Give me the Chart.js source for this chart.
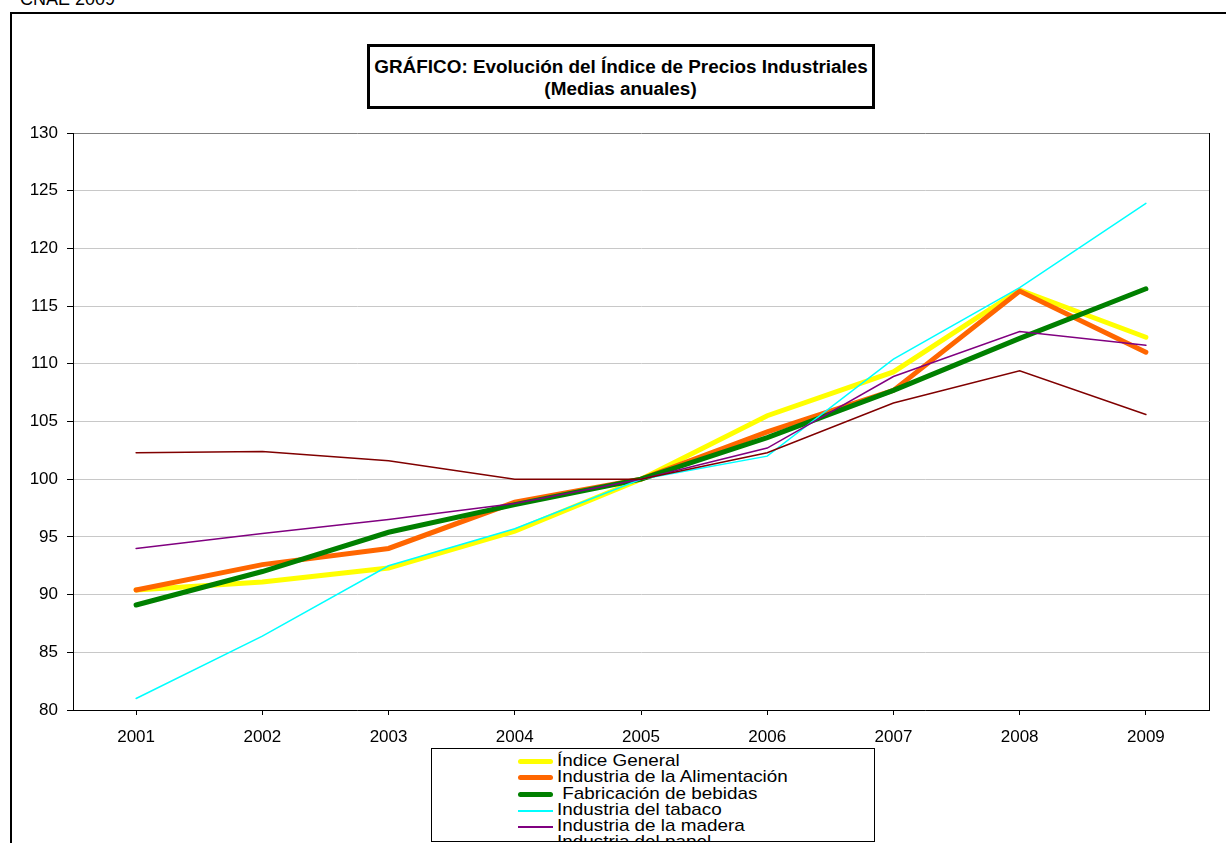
<!DOCTYPE html>
<html>
<head>
<meta charset="utf-8">
<script src="https://cdn.jsdelivr.net/npm/chart.js@4"></script>
<style>
  body { margin: 0; background: #fff; font-family: "Liberation Sans", Arial, sans-serif; }
  #wrap { position: relative; width: 1226px; height: 843px; overflow: hidden; }
  #chartCanvas { position: absolute; left: 0; top: 0; }
  .note { position: absolute; left: 20px; top: -10px; font-size: 18px; line-height: 18px; color: #000; }
  .outer { position: absolute; left: 10px; top: 12px; width: 1400px; height: 1000px; border: 2px solid #000; box-sizing: border-box; }
  .title-box { position: absolute; left: 367px; top: 44px; width: 508px; height: 65px; border: 3px solid #000; box-sizing: border-box;
    background: #fff; text-align: center; font-weight: bold; font-size: 18px; line-height: 22px; padding-top: 9px; }
  .title-box span { display: inline-block; transform: scaleX(1.05); transform-origin: center; }
  .legend-box { position: absolute; left: 431px; top: 748px; width: 444px; height: 94px; border: 1px solid #000; box-sizing: border-box;
    background: #fff; overflow: hidden; padding-top: 4px; }
  .legend-row { height: 16.3px; line-height: 16.3px; font-size: 17px; white-space: pre; position: relative; padding-left: 125px; }
  .legend-row .sample { position: absolute; left: 86px; width: 35px; }
  .legend-row .txt { display: inline-block; transform: scaleX(1.11); transform-origin: left center; }
</style>
</head>
<body>
<div id="wrap">
  <div class="outer"></div>
  <div class="note">CNAE 2009</div>
  <canvas id="chartCanvas" width="1226" height="843"></canvas>
  <div class="title-box"><span>GRÁFICO: Evolución del Índice de Precios Industriales</span><br><span>(Medias anuales)</span></div>
  <div class="legend-box" id="legend"></div>
</div>
<script>
// categories and series (annual averages, 2005 = 100)
var years = ["2001", "2002", "2003", "2004", "2005", "2006", "2007", "2008", "2009"];

var indiceGeneral = [90.4, 91.1, 92.3, 95.5, 100, 105.5, 109.3, 116.4, 112.3];
var alimentacion  = [90.4, 92.6, 94.0, 98.0, 100, 104.1, 107.7, 116.3, 111.0];
var bebidas       = [89.1, 92.0, 95.4, 97.8, 100, 103.6, 107.7, 112.2, 116.5];
var tabaco        = [81.0, 86.4, 92.5, 95.7, 100, 102.0, 110.4, 116.6, 123.9];
var madera        = [94.0, 95.3, 96.5, 97.9, 100, 102.7, 108.9, 112.8, 111.6];
var papel         = [102.3, 102.4, 101.6, 100.0, 100, 102.3, 106.6, 109.4, 105.6];

var seriesNames = [
    "Índice General",
    "Industria de la Alimentación",
    " Fabricación de bebidas",
    "Industria del tabaco",
    "Industria de la madera",
    "Industria del papel"
];
var seriesData = [indiceGeneral, alimentacion, bebidas, tabaco, madera, papel];
var seriesColors = ['#ffff00', '#ff6600', '#008000', '#00ffff', '#800080', '#800000'];
var seriesWidths = [5, 5, 5, 1.5, 1.5, 1.5];

var yTicks = [80, 85, 90, 95, 100, 105, 110, 115, 120, 125, 130];

var datasets = [];
for (let i = 0; i < seriesData.length; i++) {
    datasets.push({
        label: seriesNames[i],
        data: seriesData[i],
        borderColor: seriesColors[i],
        backgroundColor: seriesColors[i],
        borderWidth: seriesWidths[i],
        tension: 0,
        pointRadius: 0,
        borderCapStyle: 'round',
        order: seriesData.length - i   // later series on top, like the original
    });
}

// black right edge of the plot area
var plotFrame = {
    id: 'plotFrame',
    afterDatasetsDraw(chart) {
        var a = chart.chartArea, c = chart.ctx;
        c.save();
        c.strokeStyle = '#000';
        c.lineWidth = 1;
        c.beginPath();
        c.moveTo(a.right + 0.5, a.top);
        c.lineTo(a.right + 0.5, a.bottom);
        c.stroke();
        c.restore();
    }
};

var font = { family: '"Liberation Sans", Arial, sans-serif', size: 17 };

var ctx = document.getElementById('chartCanvas').getContext('2d');
var lineChart = new Chart(ctx, {
    type: 'line',
    data: { labels: years, datasets: datasets },
    options: {
        responsive: false,
        animation: false,
        layout: { padding: { left: 0, top: 133, right: 17, bottom: 93 } },
        plugins: { legend: { display: false }, tooltip: { enabled: false } },
        scales: {
            x: {
                offset: true,
                grid: { drawOnChartArea: false, drawTicks: true, tickLength: 5, tickColor: '#000' },
                border: { color: '#000', width: 1 },
                ticks: { color: '#000', font: font, padding: 12, maxRotation: 0 },
                afterFit(scale) { scale.height = 40; }
            },
            y: {
                min: 80,
                max: 130,
                afterBuildTicks(scale) { scale.ticks = yTicks.map(v => ({ value: v })); },
                grid: {
                    color: c => c.tick && c.tick.value === 130 ? '#808080' : '#c8c8c8',
                    tickColor: '#000',
                    tickLength: 6,
                    lineWidth: 1
                },
                border: { color: '#000', width: 1 },
                ticks: { color: '#000', font: font, padding: 9 },
                afterFit(scale) { scale.width = 73; }
            }
        }
    },
    plugins: [plotFrame]
});

// legend, clipped by its box like the original
var legend = document.getElementById('legend');
for (let i = 0; i < seriesNames.length; i++) {
    var row = document.createElement('div');
    row.className = 'legend-row';
    var sample = document.createElement('span');
    sample.className = 'sample';
    var h = seriesWidths[i] > 2 ? 5 : 2;
    sample.style.height = h + 'px';
    sample.style.top = (h > 2 ? 6 : 8) + 'px';
    sample.style.background = seriesColors[i];
    if (h > 2) sample.style.borderRadius = '3px';
    row.appendChild(sample);
    var txt = document.createElement('span');
    txt.className = 'txt';
    txt.textContent = seriesNames[i];
    row.appendChild(txt);
    legend.appendChild(row);
}
</script>
</body>
</html>
